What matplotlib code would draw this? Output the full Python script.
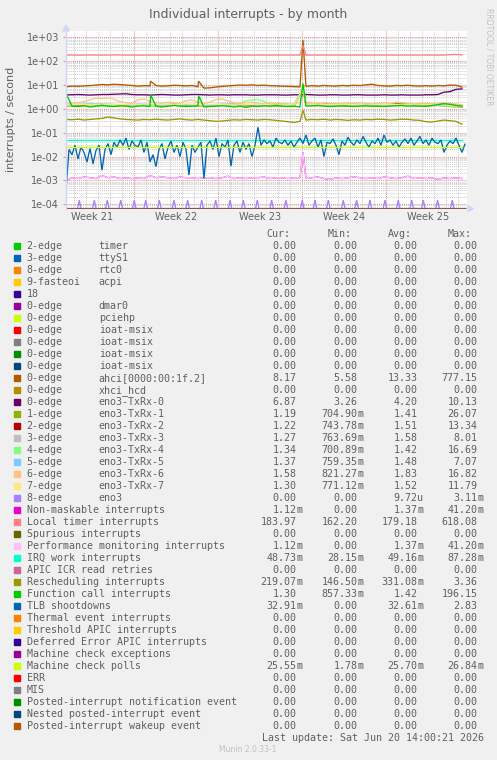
import numpy as np
import matplotlib
matplotlib.use("Agg")
import matplotlib.pyplot as plt
from matplotlib.patches import Rectangle, Polygon
from matplotlib.ticker import LogLocator, NullFormatter

W, H = 497, 760
TXT = "#606060"

# ---- legend table (text as shown) ----
DEV = ["2-edge", "3-edge", "8-edge", "9-fasteoi", "18", "0-edge", "0-edge", "0-edge",
       "0-edge", "0-edge", "0-edge", "0-edge", "0-edge", "0-edge", "1-edge", "2-edge",
       "3-edge", "4-edge", "5-edge", "6-edge", "7-edge", "8-edge",
       "Non-maskable interrupts", "Local timer interrupts", "Spurious interrupts",
       "Performance monitoring interrupts", "IRQ work interrupts", "APIC ICR read retries",
       "Rescheduling interrupts", "Function call interrupts", "TLB shootdowns",
       "Thermal event interrupts", "Threshold APIC interrupts",
       "Deferred Error APIC interrupts", "Machine check exceptions", "Machine check polls",
       "ERR", "MIS", "Posted-interrupt notification event", "Nested posted-interrupt event",
       "Posted-interrupt wakeup event"]
NAME = ["timer", "ttyS1", "rtc0", "acpi", "", "dmar0", "pciehp", "ioat-msix", "ioat-msix",
        "ioat-msix", "ioat-msix", "ahci[0000:00:1f.2]", "xhci_hcd", "eno3-TxRx-0",
        "eno3-TxRx-1", "eno3-TxRx-2", "eno3-TxRx-3", "eno3-TxRx-4", "eno3-TxRx-5",
        "eno3-TxRx-6", "eno3-TxRx-7", "eno3"] + [""] * 19
Z = "0.00"
CUR = [Z]*11 + ["8.17", Z, "6.87", "1.19", "1.22", "1.27", "1.34", "1.37", "1.58", "1.30",
       Z, "1.12m", "183.97", Z, "1.12m", "48.73m", Z, "219.07m", "1.30", "32.91m",
       Z, Z, Z, Z, "25.55m", Z, Z, Z, Z, Z]
MIN = [Z]*11 + ["5.58", Z, "3.26", "704.90m", "743.78m", "763.69m", "700.89m", "759.35m",
       "821.27m", "771.12m", Z, Z, "162.20", Z, Z, "28.15m", Z, "146.50m", "857.33m", Z,
       Z, Z, Z, Z, "1.78m", Z, Z, Z, Z, Z]
AVG = [Z]*11 + ["13.33", Z, "4.20", "1.41", "1.51", "1.58", "1.42", "1.48", "1.83", "1.52",
       "9.72u", "1.37m", "179.18", Z, "1.37m", "49.16m", Z, "331.08m", "1.42", "32.61m",
       Z, Z, Z, Z, "25.70m", Z, Z, Z, Z, Z]
MAX = [Z]*11 + ["777.15", Z, "10.13", "26.07", "13.34", "8.01", "16.69", "7.07", "16.82",
       "11.79", "3.11m", "41.20m", "618.08", Z, "41.20m", "87.28m", Z, "3.36", "196.15",
       "2.83", Z, Z, Z, Z, "26.84m", Z, Z, Z, Z, Z]

PALETTE = ["#00CC00", "#0066B3", "#FF8000", "#FFCC00", "#330099", "#990099", "#CCFF00",
           "#FF0000", "#808080", "#008F00", "#00487D", "#B35A00", "#B38F00", "#6B006B",
           "#8FB300", "#B30000", "#BEBEBE", "#80FF80", "#80C9FF", "#FFC080", "#FFE680",
           "#AA80FF", "#EE00CC", "#FF8080", "#666600", "#FFBFFF", "#00FFCC", "#CC6699",
           "#999900"]

# ---- series values (interrupts / second), x in days from left edge ----
LOCAL_TIMER = [180, 180, 179, 180, 181, 180, 180, 180, 183, 180, 180, 180, 179, 180, 180, 180,
               180, 180, 181, 180, 180, 180, 180, 180, 180, 180, 180, 180, 180, 180, 180, 180,
               180, 180, 180, 180, 180, 180, 181, 180, 180, 180, 180, 180, 180, 180, 180, 180,
               180, 180, 180, 180, 180, 180, 180, 180, 180, 180, 180, 180, 180, 180, 180, 180,
               186, 190, 184]
LOCAL_SPIKES = [(19.75, 450.0)]

AHCI = [8.5, 9.0, 8.8, 9.2, 9.5, 10.0, 10.5, 10.2, 10.8, 10.4, 10.0, 9.6,
        9.0, 9.4, 9.2, 9.6, 9.0, 9.3, 9.8, 9.5, 9.2, 9.6, 8.4, 7.4,
        7.6, 8.2, 8.8, 9.2, 9.6, 10.0, 9.8, 10.2, 9.6, 9.9, 9.4, 9.2,
        9.0, 8.8, 8.6, 8.4, 8.8, 9.4, 9.0, 9.6, 9.2, 9.0, 9.6, 9.3,
        9.8, 9.5, 10.2, 10.8, 9.6, 9.2, 9.0, 9.6, 9.4, 9.8, 9.2, 9.0,
        9.4, 9.0, 9.6, 9.2, 10.0, 9.8, 8.2]
AHCI_SPIKES = [(7.05, 14.5), (11.05, 14.5), (19.75, 777.0)]

TXRX0 = [3.9, 3.9, 4.0, 3.9, 3.8, 3.9, 4.0, 4.0, 4.1, 4.2, 4.3, 4.0, 3.9, 3.9, 3.8, 3.9,
         4.0, 3.9, 3.8, 3.8, 3.9, 4.0, 4.0, 3.9, 3.8, 3.9, 3.9, 3.8, 3.9, 3.9, 3.9, 3.8,
         3.8, 3.9, 3.9, 3.9, 3.8, 3.8, 3.9, 3.9, 4.0, 3.9, 3.8, 3.8, 3.9, 3.9, 3.8, 3.8,
         3.9, 3.9, 3.8, 3.8, 3.8, 3.9, 3.8, 3.8, 3.9, 3.8, 3.8, 3.8, 3.9, 3.9, 4.0, 5.0,
         5.3, 6.6, 6.9]

FUNC_CALL = [4.5, 1.3, 1.25, 1.35, 1.2, 1.3, 1.4, 1.3, 1.25, 1.35, 1.3, 1.2, 1.3, 1.35,
             1.25, 1.3, 1.2, 1.3, 1.4, 1.3, 1.25, 1.3, 1.35, 1.2, 1.25, 1.3, 1.35, 1.3,
             1.2, 1.3, 1.15, 1.3, 1.25, 1.35, 1.3, 1.4, 1.3, 1.25, 1.3, 1.2, 1.3, 1.35,
             1.4, 1.3, 1.25, 1.3, 1.35, 1.3, 1.25, 1.3, 1.35, 1.3, 1.3, 1.25, 1.3, 1.35,
             1.4, 1.3, 1.35, 1.3, 1.3, 1.4, 1.5, 1.65, 1.55, 1.4, 1.3]
FUNC_SPIKES = [(7.05, 3.8), (11.05, 3.5), (19.75, 11.7)]

TXRX6 = [1.6, 1.7, 1.8, 2.0, 2.4, 2.8, 2.7, 2.9, 2.5, 2.0, 1.8, 1.7,
         2.4, 2.6, 2.0, 1.8, 1.7, 1.9, 1.8, 1.7, 2.2, 2.4, 1.9, 1.7,
         1.9, 2.5, 2.6, 2.2, 1.8, 1.7, 1.8, 1.9, 1.7, 1.6, 1.8, 1.7,
         1.7, 1.6, 1.6, 1.9, 2.0, 1.8, 1.7, 1.8, 1.7, 1.6, 1.7, 1.8,
         1.7, 1.8, 1.7, 1.6, 1.7, 1.8, 1.7, 1.9, 1.8, 1.7, 1.6, 1.7,
         1.7, 1.6, 1.7, 1.8, 1.7, 1.6, 1.5]
TXRX6_SPIKES = [(19.75, 8.0)]

TXRX1 = [1.3, 1.4, 1.35, 1.45, 1.3, 1.4, 1.5, 1.35, 1.3, 1.4, 1.45, 1.3, 1.35, 1.4, 1.5, 1.3,
         1.4, 1.35, 1.3, 1.25, 1.4, 1.35, 1.45, 1.3, 1.4, 1.35, 1.3, 1.4, 1.45, 1.35, 1.3,
         1.4, 1.25, 1.2]
TXRX2 = [1.45, 1.5, 1.4, 1.55, 1.45, 1.5, 1.4, 1.5, 1.45, 1.55, 1.4, 1.5, 1.45, 1.5, 1.55,
         1.45, 1.4, 1.5, 1.45, 1.5, 1.55, 1.45, 1.65, 1.5, 1.45, 1.5, 1.4, 1.55, 1.7, 1.5,
         1.45, 1.65, 1.5, 1.25]
TXRX3 = [1.5, 1.55, 1.6, 1.5, 1.55, 1.5, 1.6, 1.55, 1.5, 1.6, 1.5, 1.55, 1.5, 1.6, 1.55,
         1.5, 1.6, 1.5, 1.55, 1.5, 1.6, 1.55, 1.5, 1.55, 1.6, 1.5, 1.55, 1.5, 1.6, 1.55,
         1.5, 1.55, 1.4, 1.3]
TXRX4 = [1.4, 1.5, 1.4, 1.3, 1.4, 1.5, 1.4, 1.3, 1.4, 1.4, 1.3, 1.4, 1.5, 1.4, 1.3, 2.2,
         2.5, 1.6, 1.4, 1.3, 1.4, 1.5, 1.4, 1.3, 1.4, 1.5, 1.4, 1.4, 1.3, 1.4, 1.5, 1.4,
         1.3, 1.35]
TXRX5 = [1.45, 1.5, 1.6, 1.65, 1.5, 1.45, 1.4, 1.5, 1.45, 1.4, 1.5, 1.45, 1.4, 1.5, 1.45,
         1.5, 1.4, 1.45, 1.5, 1.45, 1.4, 1.5, 1.45, 1.5, 1.4, 1.45, 1.5, 1.4, 1.45, 1.5,
         1.45, 1.4, 1.45, 1.37]
TXRX7 = [1.5, 1.55, 1.5, 1.6, 1.5, 1.55, 1.5, 1.45, 1.55, 1.5, 1.6, 1.5, 1.55, 1.5, 1.45,
         1.5, 1.55, 1.5, 1.45, 1.5, 1.55, 1.5, 1.5, 1.55, 1.5, 1.45, 1.5, 1.55, 1.5, 1.45,
         1.5, 1.55, 1.4, 1.3]
TXRX_SPIKES = [(19.75, 7.0)]

RESCHED = [0.36, 0.35, 0.37, 0.34, 0.36, 0.38, 0.40, 0.46, 0.42, 0.38, 0.36, 0.35,
           0.34, 0.36, 0.35, 0.37, 0.35, 0.34, 0.36, 0.38, 0.35, 0.34, 0.36, 0.34,
           0.32, 0.30, 0.31, 0.33, 0.35, 0.34, 0.36, 0.35, 0.34, 0.36, 0.35, 0.33,
           0.31, 0.29, 0.27, 0.30, 0.34, 0.36, 0.35, 0.37, 0.34, 0.36, 0.35, 0.33,
           0.35, 0.34, 0.36, 0.35, 0.37, 0.36, 0.34, 0.35, 0.37, 0.36, 0.34, 0.33,
           0.29, 0.28, 0.31, 0.34, 0.32, 0.30, 0.23]
RESCHED_SPIKES = [(19.75, 0.89)]

IRQ_WORK = [0.049, 0.049, 0.049, 0.049, 0.049, 0.049, 0.049, 0.049, 0.049, 0.049, 0.049, 0.049]
MC_POLLS = [0.0257, 0.0257, 0.0257, 0.0257, 0.0257, 0.0257, 0.0257, 0.0257, 0.0257, 0.0257,
            0.0257, 0.0257]

PERF = [0.0010, 0.0013, 0.0012, 0.0014, 0.0013, 0.0012, 0.0016, 0.0013, 0.0014, 0.0012,
        0.0013, 0.0012, 0.0013, 0.0012, 0.0016, 0.0013, 0.0014, 0.0013, 0.0012, 0.0014,
        0.0013, 0.0013, 0.0012, 0.0013, 0.0013, 0.0012, 0.0013, 0.0015, 0.0012, 0.0013,
        0.0012, 0.0013, 0.0013, 0.0014, 0.0012, 0.0013, 0.0013, 0.0012, 0.0013, 0.0013,
        0.0012, 0.0013, 0.0014, 0.0012, 0.0011, 0.0013, 0.0012, 0.0013, 0.0014, 0.0013,
        0.0012, 0.0013, 0.0012, 0.0014, 0.0013, 0.0012, 0.0013, 0.0015, 0.0012, 0.0013,
        0.0012, 0.0013, 0.0011, 0.0013, 0.0012, 0.0013, 0.0012]
PERF_SPIKES = [(19.75, 0.015)]

TLB = [0.0004, 0.020, 0.012, 0.030, 0.008, 0.025, 0.015, 0.006,
       0.022, 0.005, 0.018, 0.030, 0.0027, 0.020, 0.035, 0.012,
       0.040, 0.025, 0.050, 0.030, 0.060, 0.020, 0.045, 0.030,
       0.025, 0.050, 0.015, 0.040, 0.006, 0.012, 0.0038, 0.020,
       0.035, 0.008, 0.025, 0.045, 0.015, 0.030, 0.010, 0.040,
       0.020, 0.0017, 0.030, 0.015, 0.025, 0.040, 0.0012, 0.030,
       0.045, 0.020, 0.060, 0.010, 0.035, 0.025, 0.050, 0.004,
       0.030, 0.045, 0.015, 0.040, 0.020, 0.035, 0.010, 0.030,
       0.170, 0.030, 0.050, 0.035, 0.045, 0.025, 0.060, 0.040,
       0.035, 0.050, 0.030, 0.045, 0.025, 0.040, 0.060, 0.035,
       0.080, 0.030, 0.045, 0.060, 0.025, 0.050, 0.010, 0.040,
       0.035, 0.055, 0.030, 0.012, 0.045, 0.030, 0.065, 0.040,
       0.030, 0.050, 0.035, 0.070, 0.040, 0.025, 0.045, 0.035,
       0.060, 0.030, 0.080, 0.040, 0.050, 0.030, 0.045, 0.025,
       0.040, 0.055, 0.035, 0.060, 0.030, 0.045, 0.070, 0.035,
       0.050, 0.030, 0.060, 0.040, 0.035, 0.050, 0.015, 0.030,
       0.045, 0.035, 0.060, 0.030, 0.015, 0.033]

# eno3: short bursts (day, value), zero in between
ENO3_EVENTS = [(1.11, 1.5e-4), (2.36, 1.5e-4), (3.44, 1.5e-4), (4.56, 1.5e-4), (5.69, 1.5e-4),
               (6.64, 1.5e-4), (7.78, 1.5e-4), (9.0, 1.5e-4), (10.14, 1.5e-4), (11.31, 1.5e-4),
               (12.47, 1.5e-4), (13.67, 1.5e-4), (14.78, 1.5e-4), (15.94, 1.5e-4),
               (17.14, 1.5e-4), (18.33, 1.5e-4), (19.69, 1.5e-4), (20.75, 1.5e-4),
               (21.86, 1.5e-4), (23.11, 1.5e-4), (24.22, 1.5e-4), (25.33, 1.5e-4),
               (26.58, 1.5e-4), (27.69, 1.5e-4), (28.81, 1.5e-4), (29.78, 1.5e-4),
               (30.97, 1.5e-4), (32.19, 1.5e-4)]

# row index -> (values, step in days, spikes)
SERIES = {
    11: (AHCI, 0.5, AHCI_SPIKES),
    13: (TXRX0, 0.5, []),
    14: (TXRX1, 1.0, TXRX_SPIKES),
    15: (TXRX2, 1.0, TXRX_SPIKES),
    16: (TXRX3, 1.0, TXRX_SPIKES),
    17: (TXRX4, 1.0, TXRX_SPIKES),
    18: (TXRX5, 1.0, TXRX_SPIKES),
    19: (TXRX6, 0.5, TXRX6_SPIKES),
    20: (TXRX7, 1.0, TXRX_SPIKES),
    22: (PERF, 0.5, PERF_SPIKES),
    23: (LOCAL_TIMER, 0.5, LOCAL_SPIKES),
    25: (PERF, 0.5, PERF_SPIKES),
    26: (IRQ_WORK, 3.0, []),
    28: (RESCHED, 0.5, RESCHED_SPIKES),
    29: (FUNC_CALL, 0.5, FUNC_SPIKES),
    30: (TLB, 0.25, []),
    35: (MC_POLLS, 3.0, []),
}

WEEKS = ["Week 21", "Week 22", "Week 23", "Week 24", "Week 25"]
WEEK_EDGES = [5.67, 12.67, 19.67, 26.67]
X_END = 33.42
END_DAY = 33.25
YMIN, YMAX = 6.55e-5, 1837.0

fig = plt.figure(figsize=(W / 100, H / 100), dpi=100, facecolor="#F0F0F0")
ax = fig.add_axes([66 / W, 1 - 208.7 / H, 401 / W, 177.7 / H])
ax.set_facecolor("white")
ax.set_yscale("log")
ax.set_xlim(0, X_END)
ax.set_ylim(YMIN, YMAX)

# grid
for d in np.arange(WEEK_EDGES[0] - 5, X_END, 1.0):
    if min(abs(d - e) for e in WEEK_EDGES) < 0.1:
        continue
    ax.axvline(d, color="#cfcfcf", lw=0.75, ls=(0, (1, 1)), zorder=0)
for e in WEEK_EDGES:
    ax.axvline(e, color="#f09090", lw=0.75, ls=(0, (1, 1)), zorder=0)
ax.yaxis.set_minor_locator(LogLocator(base=10, subs=range(2, 10), numticks=20))
ax.yaxis.set_minor_formatter(NullFormatter())
ax.grid(True, which="minor", axis="y", color="#cfcfcf", lw=0.75, ls=(0, (1, 1)), zorder=0)
ax.grid(True, which="major", axis="y", color="#f09090", lw=0.75, ls=(0, (1, 1)), zorder=0)
ax.set_axisbelow(True)

# data
for i in range(len(DEV)):
    c = PALETTE[i % len(PALETTE)]
    if i == 21:
        xs, ys = [0.0], [0.0]
        for d, v in ENO3_EVENTS:
            xs += [d - 0.15, d, d + 0.15]
            ys += [0.0, v, 0.0]
        xs.append(END_DAY)
        ys.append(0.0)
    elif i in SERIES:
        vals, step, spikes = SERIES[i]
        xs = list(np.arange(len(vals)) * step)
        ys = list(vals)
        for d, v in spikes:
            k = int(np.searchsorted(xs, d))
            xs.insert(k, d)
            ys.insert(k, v)
    else:
        xs, ys = [0.0, END_DAY], [0.0, 0.0]
    ys = np.clip(np.array(ys, float), YMIN, None)
    ax.plot(xs, ys, color=c, lw=0.95, solid_joinstyle="miter")

for s in ax.spines.values():
    s.set_visible(False)

# axes + arrows
AX_C = "#CFD6F8"
ax.plot([0, 0], [0, 1.02], transform=ax.transAxes, color=AX_C, lw=1, clip_on=False)
ax.add_patch(Polygon([[-0.008, 1.0], [0.008, 1.0], [0, 1.032]], closed=True, transform=ax.transAxes,
                     color=AX_C, clip_on=False))
ax.add_patch(Polygon([[1.003, -0.016], [1.003, 0.016], [1.016, 0]], closed=True,
                     transform=ax.transAxes, color=AX_C, clip_on=False))

# ticks
ax.set_yticks([1e-4, 1e-3, 1e-2, 1e-1, 1, 10, 100, 1000])
ax.set_yticklabels(["1e-04", "1e-03", "1e-02", "1e-01", "1e+00", "1e+01", "1e+02", "1e+03"])
ax.tick_params(axis="y", which="major", length=2, color="#f09090", pad=3, labelsize=7,
               labelcolor=TXT)
ax.tick_params(axis="y", which="minor", length=0)
mids = [WEEK_EDGES[0] - 3.5] + [e + 3.5 for e in WEEK_EDGES]
ax.set_xticks(mids)
ax.set_xticklabels(WEEKS)
ax.tick_params(axis="x", length=0, pad=2.7, labelsize=7, labelcolor=TXT)

# texts
def ft(x, y, s, **kw):
    fig.text(x / W, 1 - y / H, s, **kw)

ft(248.3, 18.3, "Individual interrupts - by month", ha="center", va="baseline", fontsize=9,
   color=TXT)
ft(10.7, 119, "interrupts / second", rotation=90, ha="center", va="center", fontsize=8,
   color=TXT)
ft(489, 56.5, "RRDTOOL / TOBI OETIKER", rotation=270, ha="center", va="center", fontsize=5.5,
   color="#c0c0c0")

MONO = dict(family="DejaVu Sans Mono", fontsize=7.2, color=TXT, va="baseline")
for lab, x in zip(["Cur:", "Min:", "Avg:", "Max:"], [266.7, 327.3, 387.7, 447.3]):
    ft(x, 236.8, lab, ha="left", **MONO)

for i in range(len(DEV)):
    yc = 245.7 + 12 * i
    fig.add_artist(Rectangle((14.2 / W, 1 - (yc + 3) / H), 6 / W, 6 / H,
                             transform=fig.transFigure, color=PALETTE[i % len(PALETTE)]))
    ft(26.7, yc + 3.3, DEV[i], ha="left", **MONO)
    if NAME[i]:
        ft(98.7, yc + 3.3, NAME[i], ha="left", **MONO)
    for s, xr in zip([CUR[i], MIN[i], AVG[i], MAX[i]], [296.7, 357.3, 417.3, 477.3]):
        unit = s[-1] if s[-1] in "mu" else ""
        num = s[:-1] if unit else s
        ft(xr, yc + 3.3, num, ha="right", **MONO)
        if unit:
            ft(xr, yc + 3.3, unit, ha="left", **MONO)

ft(261.7, 737.7 + 3.3, "Last update: Sat Jun 20 14:00:21 2026", ha="left", **MONO)
ft(247.8, 749, "Munin 2.0.33-1", ha="center", va="center", fontsize=5.5, color="#c0c0c0")

fig.savefig("out.png", dpi=100, facecolor=fig.get_facecolor())
